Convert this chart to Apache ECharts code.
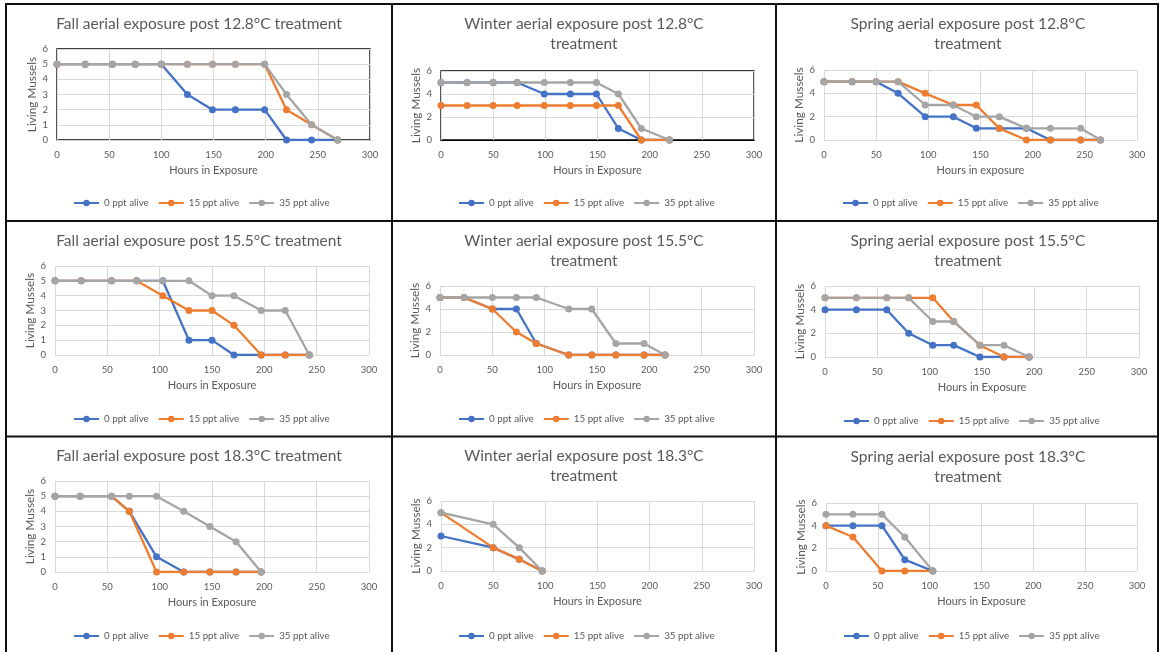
<!DOCTYPE html>
<html>
<head>
<meta charset="utf-8">
<title>Aerial exposure survival of mussels</title>
<script src="https://cdn.jsdelivr.net/npm/echarts@6/dist/echarts.min.js"></script>
<style>
  html, body { margin: 0; padding: 0; background: #ffffff; }
  #chart { width: 1160px; height: 652px; }
</style>
</head>
<body>
<div id="chart"></div>
<script>
// ---- Data: hours of aerial exposure and living mussels per salinity ----
const seriesNames = ['0 ppt alive', '15 ppt alive', '35 ppt alive'];

const fall128Hours = [0, 27, 53, 75, 100, 125, 149, 171, 199, 220, 244, 269];
const fall128Ppt0  = [5, 5, 5, 5, 5, 3, 2, 2, 2, 0, 0, 0];
const fall128Ppt15 = [5, 5, 5, 5, 5, 5, 5, 5, 5, 2, 1, 0];
const fall128Ppt35 = [5, 5, 5, 5, 5, 5, 5, 5, 5, 3, 1, 0];

const winter128Hours = [0, 25, 50, 73, 99, 124, 149, 170, 192, 219];
const winter128Ppt0  = [5, 5, 5, 5, 4, 4, 4, 1, 0, 0];
const winter128Ppt15 = [3, 3, 3, 3, 3, 3, 3, 3, 0, 0];
const winter128Ppt35 = [5, 5, 5, 5, 5, 5, 5, 4, 1, 0];

const spring128Hours = [0, 27, 50, 71, 97, 124, 146, 168, 194, 217, 246, 265];
const spring128Ppt0  = [5, 5, 5, 4, 2, 2, 1, 1, 1, 0, 0, 0];
const spring128Ppt15 = [5, 5, 5, 5, 4, 3, 3, 1, 0, 0, 0, 0];
const spring128Ppt35 = [5, 5, 5, 5, 3, 3, 2, 2, 1, 1, 1, 0];

const fall155Hours = [0, 25, 54, 78, 103, 128, 150, 171, 197, 220, 243];
const fall155Ppt0  = [5, 5, 5, 5, 5, 1, 1, 0, 0, 0, 0];
const fall155Ppt15 = [5, 5, 5, 5, 4, 3, 3, 2, 0, 0, 0];
const fall155Ppt35 = [5, 5, 5, 5, 5, 5, 4, 4, 3, 3, 0];

const winter155Hours = [0, 23, 50, 73, 92, 123, 145, 168, 195, 215];
const winter155Ppt0  = [5, 5, 4, 4, 1, 0, 0, 0, 0, 0];
const winter155Ppt15 = [5, 5, 4, 2, 1, 0, 0, 0, 0, 0];
const winter155Ppt35 = [5, 5, 5, 5, 5, 4, 4, 1, 1, 0];

const spring155Hours = [0, 30, 59, 80, 103, 123, 148, 171, 195];
const spring155Ppt0  = [4, 4, 4, 2, 1, 1, 0, 0, 0];
const spring155Ppt15 = [5, 5, 5, 5, 5, 3, 1, 0, 0];
const spring155Ppt35 = [5, 5, 5, 5, 3, 3, 1, 1, 0];

const fall183Hours = [0, 24, 54, 71, 97, 123, 148, 173, 197];
const fall183Ppt0  = [5, 5, 5, 4, 1, 0, 0, 0, 0];
const fall183Ppt15 = [5, 5, 5, 4, 0, 0, 0, 0, 0];
const fall183Ppt35 = [5, 5, 5, 5, 5, 4, 3, 2, 0];

const winter183Hours = [0, 50, 75, 97];
const winter183Ppt0  = [3, 2, 1, 0];
const winter183Ppt15 = [5, 2, 1, 0];
const winter183Ppt35 = [5, 4, 2, 0];

const spring183Hours = [0, 26, 54, 76, 103];
const spring183Ppt0  = [4, 4, 4, 1, 0];
const spring183Ppt15 = [4, 3, 0, 0, 0];
const spring183Ppt35 = [5, 5, 5, 3, 0];

const xTicks = { min: 0, max: 300, step: 50 };

// ---- Panel definitions (text + data) ----
const panels = [
  { title: 'Fall aerial exposure post 12.8°C treatment', xName: 'Hours in Exposure', yStep: 1,
    hours: fall128Hours, values: [fall128Ppt0, fall128Ppt15, fall128Ppt35] },
  { title: 'Winter aerial exposure post 12.8°C\ntreatment', xName: 'Hours in Exposure', yStep: 2,
    hours: winter128Hours, values: [winter128Ppt0, winter128Ppt15, winter128Ppt35] },
  { title: 'Spring aerial exposure post 12.8°C\ntreatment', xName: 'Hours in exposure', yStep: 2,
    hours: spring128Hours, values: [spring128Ppt0, spring128Ppt15, spring128Ppt35] },
  { title: 'Fall aerial exposure post 15.5°C treatment', xName: 'Hours in Exposure', yStep: 1,
    hours: fall155Hours, values: [fall155Ppt0, fall155Ppt15, fall155Ppt35] },
  { title: 'Winter aerial exposure post 15.5°C\ntreatment', xName: 'Hours in Exposure', yStep: 2,
    hours: winter155Hours, values: [winter155Ppt0, winter155Ppt15, winter155Ppt35] },
  { title: 'Spring aerial exposure post 15.5°C\ntreatment', xName: 'Hours in Exposure', yStep: 2,
    hours: spring155Hours, values: [spring155Ppt0, spring155Ppt15, spring155Ppt35] },
  { title: 'Fall aerial exposure post 18.3°C treatment', xName: 'Hours in Exposure', yStep: 1,
    hours: fall183Hours, values: [fall183Ppt0, fall183Ppt15, fall183Ppt35] },
  { title: 'Winter aerial exposure post 18.3°C\ntreatment', xName: 'Hours in Exposure', yStep: 2,
    hours: winter183Hours, values: [winter183Ppt0, winter183Ppt15, winter183Ppt35] },
  { title: 'Spring aerial exposure post 18.3°C\ntreatment', xName: 'Hours in Exposure', yStep: 2,
    hours: spring183Hours, values: [spring183Ppt0, spring183Ppt15, spring183Ppt35] }
];

// ---- Layout of each panel on the page (pixels) ----
const layouts = [
  { grid: [57, 49, 313, 91],  titleX: 199, titleTop: 14,  legendX: 73,  legendY: 203, framed: true },
  { grid: [441, 71, 313, 69], titleX: 584, titleTop: 14,  legendX: 458, legendY: 203, framed: true },
  { grid: [824, 70, 313, 70], titleX: 968, titleTop: 14,  legendX: 842, legendY: 203 },
  { grid: [55, 266, 314, 89], titleX: 199, titleTop: 231, legendX: 73,  legendY: 419 },
  { grid: [440, 286, 314, 69], titleX: 584, titleTop: 231, legendX: 458, legendY: 419 },
  { grid: [825, 286, 314, 71], titleX: 968, titleTop: 231, legendX: 843, legendY: 421 },
  { grid: [55, 481, 314, 91], titleX: 199, titleTop: 446, legendX: 73,  legendY: 636 },
  { grid: [441, 501, 313, 70], titleX: 584, titleTop: 446, legendX: 458, legendY: 636 },
  { grid: [826, 503, 311, 68], titleX: 968, titleTop: 447, legendX: 843, legendY: 636 }
];

const FONT = 'Lato, "Open Sans", sans-serif';
const TEXT = '#595959';
const GRIDLINE = '#d9d9d9';
const COLORS = ['#4472C4', '#ED7D31', '#A5A5A5'];

const option = {
  backgroundColor: '#ffffff',
  animation: false,
  textStyle: { fontFamily: FONT },
  title: [], legend: [], grid: [], xAxis: [], yAxis: [], series: [],
  graphic: []
};

panels.forEach((p, i) => {
  const L = layouts[i];
  option.title.push({
    text: p.title,
    left: L.titleX, top: L.titleTop, textAlign: 'center',
    padding: 0,
    textStyle: { fontFamily: FONT, fontSize: 15.5, fontWeight: 'normal', color: TEXT, lineHeight: 20 }
  });
  option.legend.push({
    data: seriesNames,
    left: L.legendX, top: L.legendY - 6,
    padding: 0, itemGap: 9, itemWidth: 25, itemHeight: 8,
    selectedMode: false,
    textStyle: { fontFamily: FONT, fontSize: 9.8, color: TEXT, lineHeight: 12 }
  });
  option.grid.push({
    left: L.grid[0], top: L.grid[1], width: L.grid[2], height: L.grid[3],
    containLabel: false,
    show: !!L.framed,
    borderColor: '#000000', borderWidth: 1.3, backgroundColor: 'transparent'
  });
  option.xAxis.push({
    type: 'value', gridIndex: i,
    min: xTicks.min, max: xTicks.max, interval: xTicks.step,
    name: p.xName, nameLocation: 'middle', nameGap: 25,
    nameTextStyle: { fontFamily: FONT, fontSize: 11, color: TEXT },
    axisLine: { show: true, lineStyle: { color: i === 1 ? '#000000' : GRIDLINE, width: 1 } },
    axisTick: { show: false },
    axisLabel: { fontFamily: FONT, fontSize: 9.5, color: TEXT, margin: 10 },
    splitLine: { show: true, lineStyle: { color: GRIDLINE, width: 1 } }
  });
  option.yAxis.push({
    type: 'value', gridIndex: i,
    min: 0, max: 6, interval: p.yStep,
    name: 'Living Mussels', nameLocation: 'middle', nameGap: 18,
    nameTextStyle: { fontFamily: FONT, fontSize: 11.8, color: TEXT },
    axisLine: { show: false },
    axisTick: { show: false },
    axisLabel: { fontFamily: FONT, fontSize: 9.5, color: TEXT, margin: 9 },
    splitLine: { show: true, lineStyle: { color: GRIDLINE, width: 1 } }
  });
  p.values.forEach((vals, s) => {
    option.series.push({
      name: seriesNames[s],
      type: 'line',
      xAxisIndex: i, yAxisIndex: i,
      data: p.hours.map((h, k) => [h, vals[k]]),
      symbol: 'circle', symbolSize: 7,
      color: COLORS[s],
      lineStyle: { width: 2.3, color: COLORS[s] },
      itemStyle: { color: COLORS[s] },
      z: 3 + s
    });
  });
});

// Cell borders of the 3 x 3 table
const lineStyle = { stroke: '#111111', lineWidth: 2 };
[
  [6, 3, 6, 652], [392, 3, 392, 652], [776, 3, 776, 652], [1158, 3, 1158, 652],
  [5, 4, 1159, 4], [5, 221, 1159, 221], [5, 436.5, 1159, 436.5]
].forEach(s => {
  option.graphic.push({
    type: 'line', silent: true, z: 100,
    shape: { x1: s[0], y1: s[1], x2: s[2], y2: s[3] },
    style: lineStyle
  });
});

const chart = echarts.init(document.getElementById('chart'), null, { renderer: 'canvas' });
chart.setOption(option);
</script>
</body>
</html>
